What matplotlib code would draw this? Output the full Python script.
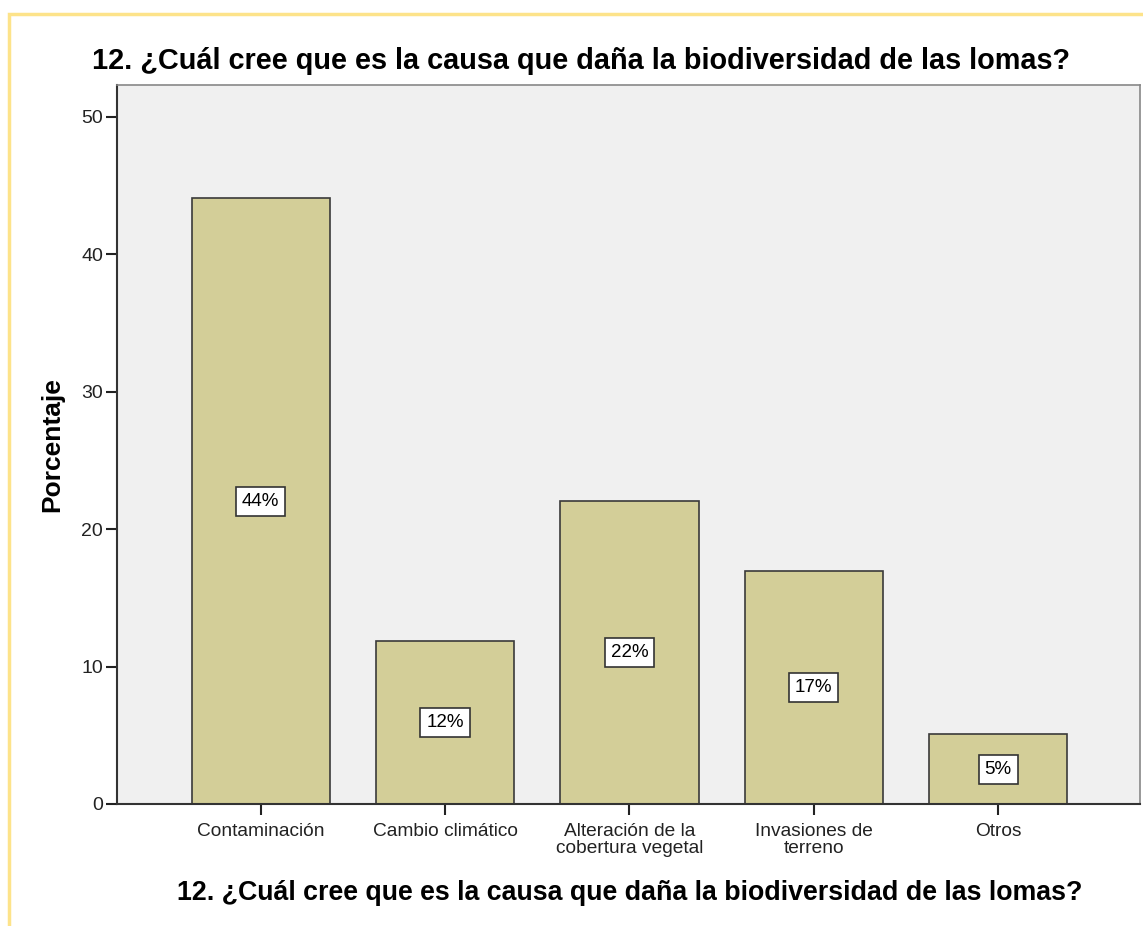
import matplotlib.pyplot as plt
from matplotlib.patches import Rectangle

categories = ["Contaminación", "Cambio climático", "Alteración de la\ncobertura vegetal",
              "Invasiones de\nterreno", "Otros"]
values = [44.07, 11.86, 22.03, 16.95, 5.08]
labels = ["44%", "12%", "22%", "17%", "5%"]
yticks = [0, 10, 20, 30, 40, 50]
question = "12. ¿Cuál cree que es la causa que daña la biodiversidad de las lomas?"

plt.rcParams['font.family'] = ['Liberation Sans', 'DejaVu Sans']

fig = plt.figure(figsize=(11.43, 9.26), dpi=100)
W, H = 1143, 926

# yellow frame around the chart
fig.patches.append(Rectangle((9 / W, -0.01), 1.2, 1 - 14 / H + 0.01, transform=fig.transFigure,
                             fill=False, edgecolor='#fde38a', linewidth=2.5))

ax = fig.add_axes([117 / W, 1 - 804 / H, (1140 - 117) / W, (804 - 85) / H])
ax.set_facecolor('#f0f0f0')

x = range(len(categories))
ax.bar(x, values, width=0.75, color='#d3ce98', edgecolor='#3a3a3a', linewidth=1.2, zorder=2)

for i, (v, lab) in enumerate(zip(values, labels)):
    ax.text(i, v / 2, lab, ha='center', va='center', fontsize=13.5, zorder=3,
            bbox=dict(boxstyle='square,pad=0.32', facecolor='white', edgecolor='#333333', linewidth=1.2))

ax.set_xlim(-0.78, 4.77)
ax.set_ylim(0, 52.3)
ax.set_yticks(yticks)
ax.set_xticks(list(x))
ax.set_xticklabels(categories, fontsize=13.8, color='#222222', linespacing=0.95)
ax.tick_params(axis='y', labelsize=14, length=8, width=1.5, colors='#222222', pad=2)
ax.tick_params(axis='x', length=8, width=1.5, colors='#222222', pad=6)

for s in ['left', 'bottom']:
    ax.spines[s].set_color('#333333')
    ax.spines[s].set_linewidth(1.5)
for s in ['top', 'right']:
    ax.spines[s].set_color('#888888')
    ax.spines[s].set_linewidth(1.2)

ax.set_ylabel("Porcentaje", fontsize=19, fontweight='bold', labelpad=12)
fig.text(581 / W, 1 - 61 / H, question, ha='center', va='center', fontsize=20.8, fontweight='bold')
fig.text(630 / W, 1 - 893 / H, question, ha='center', va='center', fontsize=19.3, fontweight='bold')

fig.savefig('out.png', dpi=100)
